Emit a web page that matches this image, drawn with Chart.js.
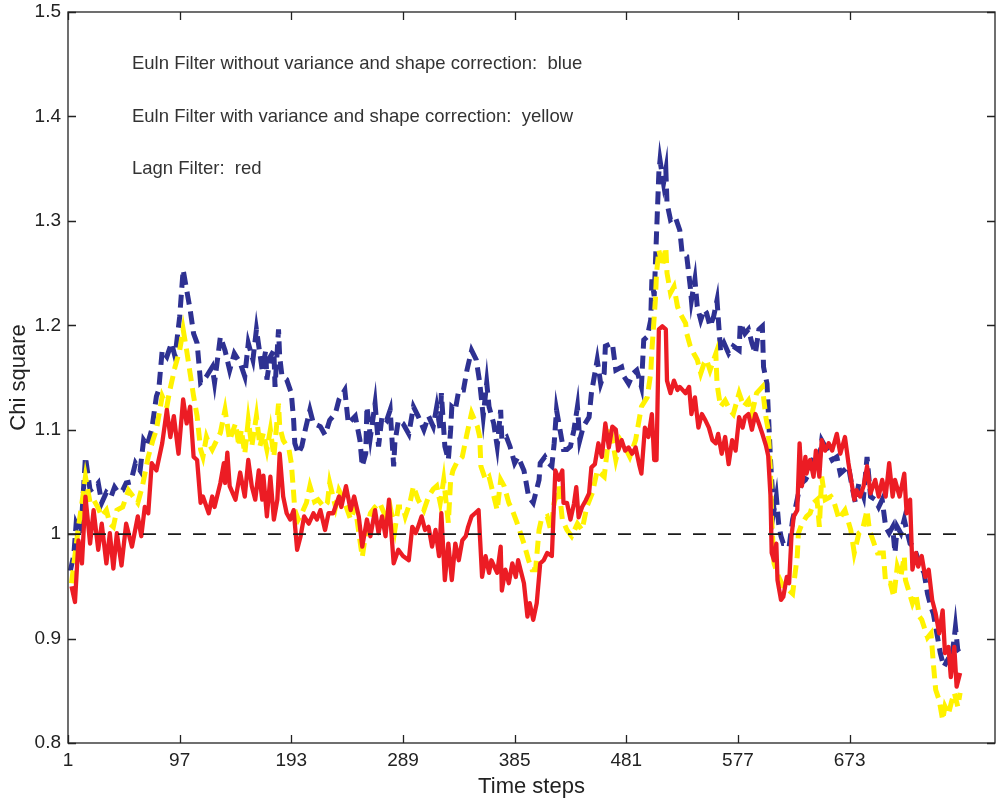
<!DOCTYPE html>
<html>
<head>
<meta charset="utf-8">
<title>Chi square over time steps</title>
<script src="https://cdn.jsdelivr.net/npm/chart.js@4.4.1/dist/chart.umd.min.js"></script>
<style>
  html, body { margin: 0; padding: 0; background: #fff; }
  #chiChart { display: block; }
</style>
</head>
<body>
<canvas id="chiChart" width="1000" height="800"></canvas>
<script>
// values, [time step, chi square]
const blueSeries = [
  [3,0.965],[6,0.980],[8,1.010],[12,1.000],[16,1.074],[20,1.042],[24,1.045],[27,1.049],[30,1.030],[34,1.040],
  [38,1.036],[41,1.045],[44,1.040],[48,1.042],[51,1.049],[55,1.050],[59,1.068],[63,1.061],[66,1.090],[69,1.085],
  [73,1.100],[77,1.132],[79,1.138],[82,1.176],[86,1.170],[90,1.183],[93,1.170],[97,1.208],[100,1.253],[103,1.234],
  [106,1.215],[109,1.192],[112,1.183],[115,1.145],[118,1.148],[120,1.151],[125,1.160],[127,1.145],[132,1.189],[136,1.176],
  [140,1.157],[144,1.173],[149,1.164],[153,1.151],[156,1.183],[160,1.167],[163,1.196],[168,1.157],[171,1.176],[172,1.148],
  [175,1.170],[178,1.176],[179,1.141],[182,1.196],[183,1.170],[185,1.151],[189,1.148],[193,1.135],[195,1.109],[196,1.087],
  [199,1.077],[202,1.084],[205,1.100],[209,1.119],[212,1.106],[218,1.103],[222,1.095],[226,1.109],[231,1.116],[234,1.129],
  [239,1.138],[242,1.106],[248,1.113],[252,1.090],[254,1.065],[257,1.077],[258,1.122],[261,1.093],[265,1.125],[268,1.084],
  [271,1.113],[275,1.109],[278,1.119],[281,1.065],[282,1.087],[285,1.109],[289,1.106],[294,1.096],[298,1.122],[302,1.113],
  [307,1.100],[311,1.113],[315,1.103],[318,1.122],[321,1.100],[322,1.135],[325,1.084],[328,1.071],[330,1.100],[331,1.122],
  [334,1.119],[337,1.138],[341,1.138],[344,1.157],[348,1.176],[352,1.167],[355,1.145],[358,1.113],[361,1.145],[363,1.122],
  [367,1.106],[370,1.084],[373,1.119],[374,1.090],[378,1.093],[381,1.084],[385,1.068],[388,1.074],[393,1.061],[394,1.055],
  [397,1.036],[401,1.030],[406,1.052],[407,1.068],[411,1.074],[414,1.068],[417,1.065],[419,1.087],[421,1.119],[424,1.100],
  [427,1.081],[430,1.081],[433,1.084],[436,1.100],[439,1.122],[441,1.090],[444,1.103],[449,1.112],[451,1.135],[456,1.167],
  [459,1.144],[462,1.154],[463,1.180],[469,1.183],[472,1.157],[477,1.160],[479,1.151],[483,1.144],[487,1.154],[490,1.157],
  [494,1.141],[496,1.186],[499,1.189],[502,1.205],[503,1.244],[505,1.228],[507,1.288],[509,1.346],[510,1.358],[513,1.336],
  [515,1.349],[516,1.317],[519,1.301],[523,1.304],[527,1.291],[529,1.269],[533,1.266],[536,1.237],[537,1.224],[540,1.244],
  [542,1.218],[545,1.205],[548,1.215],[550,1.212],[553,1.199],[556,1.208],[559,1.224],[562,1.176],[565,1.183],[569,1.173],
  [573,1.180],[578,1.176],[579,1.202],[583,1.192],[586,1.196],[589,1.183],[592,1.173],[595,1.196],[598,1.199],[599,1.160],
  [602,1.144],[605,1.071],[606,1.052],[608,1.023],[610,1.036],[612,1.010],[614,0.998],[616,0.991],[619,0.991],[621,0.988],
  [624,1.014],[626,1.023],[629,1.039],[632,1.049],[635,1.052],[638,1.058],[642,1.074],[647,1.071],[649,1.090],[654,1.080],
  [658,1.071],[662,1.074],[665,1.058],[668,1.061],[672,1.065],[675,1.046],[678,1.030],[681,1.049],[685,1.036],[688,1.074],
  [691,1.036],[695,1.033],[698,1.026],[701,1.033],[704,1.007],[707,1.001],[710,1.007],[712,0.982],[714,1.007],[717,1.001],
  [720,1.014],[722,1.004],[725,0.991],[728,0.988],[731,0.979],[734,0.969],[737,0.963],[740,0.943],[743,0.930],[745,0.924],
  [748,0.905],[751,0.886],[754,0.873],[757,0.879],[760,0.876],[763,0.901],[764,0.911],[766,0.889],[768,0.886]
];

const yellowSeries = [
  [4,0.953],[7,0.980],[10,1.007],[13,1.030],[16,1.055],[20,1.030],[23,1.033],[27,1.025],[30,1.017],[34,1.023],
  [37,1.010],[40,1.007],[43,1.023],[48,1.026],[53,1.042],[61,1.030],[65,1.046],[70,1.074],[74,1.090],[77,1.100],
  [82,1.132],[86,1.122],[88,1.135],[93,1.160],[97,1.176],[100,1.196],[103,1.176],[106,1.154],[109,1.132],[112,1.113],
  [115,1.081],[117,1.074],[120,1.093],[122,1.087],[125,1.081],[132,1.097],[136,1.119],[140,1.090],[145,1.106],[148,1.084],
  [150,1.100],[153,1.077],[156,1.109],[159,1.084],[163,1.113],[166,1.084],[169,1.097],[172,1.081],[175,1.100],[178,1.074],
  [182,1.125],[183,1.103],[186,1.090],[191,1.081],[193,1.068],[195,1.039],[196,1.023],[199,1.014],[202,1.020],[206,1.030],
  [209,1.046],[213,1.031],[216,1.033],[221,1.026],[224,1.030],[226,1.049],[231,1.026],[234,1.042],[238,1.033],[244,1.014],
  [248,1.026],[254,0.978],[257,1.001],[261,1.020],[265,1.026],[269,1.030],[274,1.017],[278,1.026],[282,1.004],[285,1.026],
  [289,1.026],[291,1.017],[295,1.030],[298,1.046],[302,1.033],[307,1.023],[311,1.036],[315,1.043],[318,1.046],[321,1.030],
  [324,1.052],[328,1.011],[330,1.052],[332,1.061],[335,1.068],[340,1.074],[344,1.096],[348,1.116],[353,1.103],[355,1.093],
  [356,1.065],[360,1.052],[363,1.055],[365,1.046],[370,1.023],[373,1.052],[376,1.046],[380,1.030],[383,1.023],[387,1.011],
  [390,1.001],[393,0.991],[397,0.975],[400,0.966],[403,0.966],[406,1.004],[408,1.014],[413,1.017],[416,1.004],[419,1.030],
  [423,1.046],[426,1.014],[430,1.004],[434,0.998],[439,1.010],[443,1.004],[447,1.026],[452,1.040],[456,1.061],[462,1.055],
  [467,1.103],[472,1.071],[476,1.090],[480,1.083],[484,1.074],[489,1.090],[494,1.122],[499,1.131],[502,1.154],[503,1.176],
  [506,1.224],[507,1.250],[509,1.272],[512,1.256],[515,1.275],[516,1.250],[519,1.231],[522,1.237],[525,1.218],[527,1.212],
  [532,1.202],[533,1.192],[536,1.180],[539,1.173],[542,1.167],[545,1.154],[548,1.164],[550,1.167],[553,1.157],[558,1.173],
  [559,1.144],[562,1.122],[566,1.128],[570,1.119],[573,1.115],[578,1.135],[582,1.122],[586,1.128],[589,1.115],[593,1.135],
  [598,1.141],[601,1.112],[603,1.100],[605,1.060],[606,1.014],[608,0.972],[612,0.959],[616,0.950],[621,0.946],[624,0.943],
  [628,0.979],[629,1.001],[632,1.010],[636,1.017],[639,1.020],[642,1.030],[645,1.033],[647,1.007],[649,1.055],[652,1.033],
  [657,1.036],[659,1.033],[664,1.014],[667,1.020],[669,1.023],[674,1.004],[677,0.982],[681,1.001],[684,1.004],[688,1.023],
  [690,1.004],[695,0.988],[697,0.982],[702,0.982],[704,0.953],[708,0.953],[711,0.940],[714,0.969],[717,0.959],[720,0.979],
  [721,0.956],[727,0.934],[730,0.943],[733,0.921],[735,0.918],[740,0.901],[743,0.905],[745,0.876],[747,0.851],[750,0.841],
  [753,0.822],[755,0.835],[758,0.828],[761,0.841],[763,0.848],[766,0.835],[768,0.848]
];

const redSeries = [
  [4,0.950],[7,0.935],[10,0.994],[13,0.972],[16,1.036],[20,0.991],[23,1.023],[27,0.985],[30,1.010],[34,0.972],
  [37,1.001],[40,0.967],[43,1.001],[47,0.970],[51,1.010],[56,0.988],[61,1.017],[64,0.998],[67,1.026],[70,1.020],
  [73,1.068],[77,1.061],[82,1.087],[86,1.119],[89,1.093],[92,1.113],[96,1.077],[100,1.129],[103,1.106],[106,1.122],
  [109,1.074],[112,1.071],[115,1.030],[117,1.036],[122,1.020],[125,1.036],[127,1.026],[132,1.049],[135,1.068],[136,1.049],
  [138,1.078],[140,1.046],[145,1.033],[149,1.059],[153,1.036],[156,1.071],[159,1.046],[162,1.033],[165,1.061],[168,1.033],
  [169,1.056],[172,1.017],[175,1.055],[178,1.014],[181,1.033],[183,1.077],[186,1.036],[189,1.020],[192,1.014],[195,1.023],
  [198,0.985],[201,0.998],[204,1.017],[208,1.010],[212,1.020],[215,1.014],[218,1.023],[222,1.004],[225,1.020],[229,1.020],
  [234,1.036],[236,1.026],[240,1.046],[244,1.023],[247,1.036],[251,1.017],[254,0.988],[258,1.014],[261,0.998],[265,1.023],
  [268,1.001],[271,1.017],[274,0.998],[277,1.033],[281,0.972],[285,0.985],[289,0.979],[294,0.975],[297,1.007],[300,1.001],
  [302,1.007],[305,1.017],[308,1.004],[311,1.007],[314,0.988],[317,1.004],[320,0.979],[322,1.020],[325,0.956],[328,0.991],
  [331,0.956],[334,0.991],[337,0.975],[340,0.994],[343,0.998],[345,1.007],[348,1.017],[351,1.020],[354,1.023],[357,0.959],
  [360,0.979],[363,0.963],[365,0.975],[370,0.963],[373,0.988],[374,0.946],[377,0.966],[380,0.953],[383,0.972],[386,0.959],
  [388,0.975],[393,0.953],[396,0.921],[398,0.934],[401,0.918],[404,0.934],[407,0.972],[410,0.975],[413,0.982],[417,0.979],
  [420,1.061],[423,1.052],[426,1.061],[427,1.030],[430,1.030],[433,1.014],[436,1.029],[438,1.045],[440,1.016],[443,1.026],
  [446,1.032],[449,1.039],[451,1.064],[454,1.067],[457,1.087],[460,1.074],[463,1.106],[466,1.083],[469,1.103],[472,1.100],
  [474,1.080],[477,1.090],[480,1.080],[483,1.083],[486,1.077],[489,1.083],[492,1.067],[494,1.058],[497,1.102],[500,1.093],
  [503,1.115],[505,1.071],[507,1.071],[509,1.196],[512,1.199],[515,1.196],[516,1.147],[519,1.135],[522,1.147],[525,1.138],
  [527,1.141],[532,1.135],[535,1.141],[537,1.115],[540,1.131],[543,1.102],[546,1.115],[549,1.109],[552,1.102],[555,1.090],
  [558,1.087],[560,1.096],[563,1.077],[566,1.093],[569,1.067],[572,1.090],[575,1.080],[578,1.112],[581,1.102],[583,1.112],
  [586,1.115],[589,1.100],[592,1.115],[595,1.106],[598,1.096],[601,1.085],[603,1.075],[605,1.036],[606,0.982],[608,0.975],
  [610,0.991],[611,0.956],[614,0.937],[616,0.940],[619,0.959],[621,0.953],[623,0.998],[625,1.017],[628,1.023],[630,1.087],
  [632,1.046],[635,1.074],[636,1.058],[639,1.071],[642,1.055],[644,1.080],[647,1.055],[649,1.090],[652,1.080],[655,1.087],
  [658,1.080],[662,1.096],[665,1.077],[669,1.093],[672,1.068],[677,1.033],[679,1.042],[682,1.036],[685,1.046],[688,1.065],
  [691,1.039],[695,1.052],[698,1.036],[701,1.052],[704,1.036],[707,1.068],[710,1.036],[712,1.052],[716,1.036],[720,1.058],
  [722,1.020],[725,1.033],[727,0.966],[730,0.982],[732,0.969],[735,0.979],[738,0.959],[741,0.966],[744,0.937],[747,0.924],
  [750,0.905],[753,0.927],[755,0.886],[758,0.892],[760,0.863],[763,0.892],[765,0.854],[768,0.867]
];

const referenceLine = [[1, 1.0], [768, 1.0]];

const xTicks = [1, 97, 193, 289, 385, 481, 577, 673];
const yTicks = [0.8, 0.9, 1.0, 1.1, 1.2, 1.3, 1.4, 1.5];

const noteLines = [
  'Euln Filter without variance and shape correction:  blue',
  'Euln Filter with variance and shape correction:  yellow',
  'Lagn Filter:  red'
];
const noteX = 56;
const noteY = [1.45, 1.40, 1.35];

const toPoints = arr => arr.map(([x, y]) => ({ x: x, y: y }));

Chart.defaults.font.family = "'Liberation Sans', Arial, Helvetica, sans-serif";
Chart.defaults.color = '#222';

// matlab style box with inward ticks on all four sides
const boxFrame = {
  id: 'boxFrame',
  afterDraw(chart) {
    const { ctx, chartArea: a, scales } = chart;
    const len = 8;
    ctx.save();
    ctx.strokeStyle = '#222';
    ctx.lineWidth = 1.3;
    ctx.strokeRect(a.left, a.top, a.right - a.left, a.bottom - a.top);
    ctx.beginPath();
    xTicks.forEach(v => {
      const px = Math.round(scales.x.getPixelForValue(v)) + 0.5;
      ctx.moveTo(px, a.bottom); ctx.lineTo(px, a.bottom - len);
      ctx.moveTo(px, a.top); ctx.lineTo(px, a.top + len);
    });
    yTicks.forEach(v => {
      const py = Math.round(scales.y.getPixelForValue(v)) + 0.5;
      ctx.moveTo(a.left, py); ctx.lineTo(a.left + len, py);
      ctx.moveTo(a.right, py); ctx.lineTo(a.right - len, py);
    });
    ctx.stroke();
    ctx.restore();
  }
};

const notes = {
  id: 'notes',
  afterDraw(chart) {
    const { ctx, scales } = chart;
    ctx.save();
    ctx.font = "18.5px 'Liberation Sans', Arial, sans-serif";
    ctx.fillStyle = '#333';
    ctx.textAlign = 'left';
    ctx.textBaseline = 'middle';
    noteLines.forEach((t, i) => {
      ctx.fillText(t, scales.x.getPixelForValue(noteX), scales.y.getPixelForValue(noteY[i]));
    });
    ctx.restore();
  }
};

const ctx = document.getElementById('chiChart');

new Chart(ctx, {
  type: 'line',
  data: {
    datasets: [
      {
        data: toPoints(referenceLine),
        borderColor: '#1a1a1a',
        borderWidth: 1.6,
        borderDash: [13, 12],
        order: 0
      },
      {
        data: toPoints(redSeries),
        borderColor: '#ec1c24',
        borderWidth: 4.3,
        borderJoinStyle: 'round',
        order: 1
      },
      {
        data: toPoints(yellowSeries),
        borderColor: '#fff200',
        borderWidth: 5,
        borderDash: [13, 7],
        order: 2
      },
      {
        data: toPoints(blueSeries),
        borderColor: '#2e3192',
        borderWidth: 5,
        borderDash: [13, 7],
        order: 3
      }
    ]
  },
  options: {
    responsive: false,
    animation: false,
    layout: { padding: { left: 0, right: 5, top: 12, bottom: 0 } },
    elements: { point: { radius: 0 }, line: { tension: 0 } },
    plugins: {
      legend: { display: false },
      tooltip: { enabled: false }
    },
    scales: {
      x: {
        type: 'linear',
        min: 1,
        max: 798,
        grid: { display: false, drawTicks: false },
        border: { display: false },
        ticks: { font: { size: 19 }, color: '#222', padding: 6, maxRotation: 0 },
        afterBuildTicks: s => { s.ticks = xTicks.map(v => ({ value: v })); },
        afterFit: s => { s.height = 57; s.paddingLeft = 0; s.paddingRight = 0; },
        title: { display: true, text: 'Time steps', font: { size: 22 }, color: '#222', padding: { top: 0, bottom: 0 } }
      },
      y: {
        min: 0.8,
        max: 1.5,
        grid: { display: false, drawTicks: false },
        border: { display: false },
        ticks: {
          font: { size: 19 }, color: '#222', padding: 7,
          callback: v => String(Math.round(v * 10) / 10)
        },
        afterBuildTicks: s => { s.ticks = yTicks.map(v => ({ value: v })); },
        afterFit: s => { s.width = 68; s.paddingTop = 0; s.paddingBottom = 0; },
        title: { display: true, text: 'Chi square', font: { size: 22 }, color: '#222', padding: { top: 6, bottom: 4 } }
      }
    }
  },
  plugins: [boxFrame, notes]
});
</script>
</body>
</html>
